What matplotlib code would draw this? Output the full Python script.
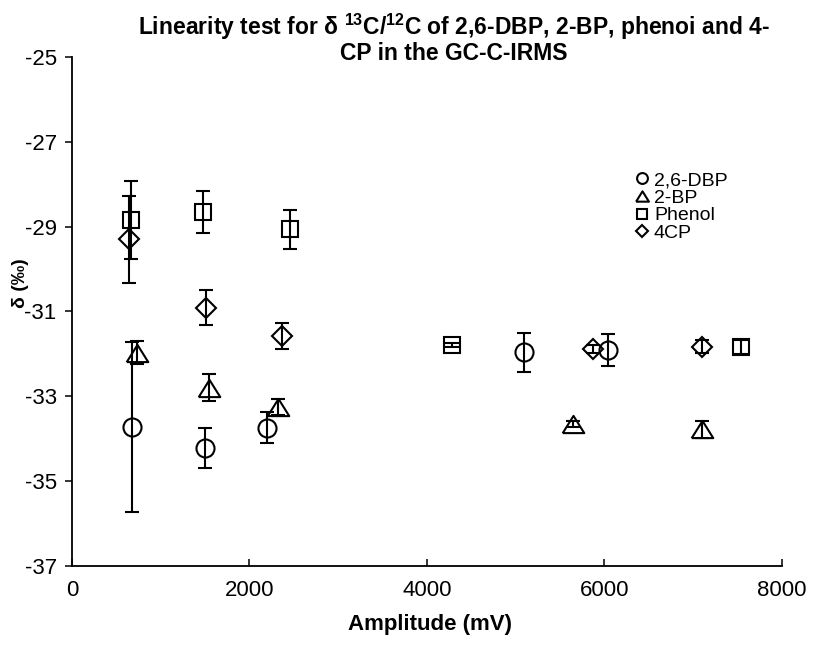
import matplotlib
matplotlib.use('Agg')
import matplotlib.pyplot as plt

# amplitude (mV), delta 13C (permil), error bar half-width
dbp_x = [672, 1499, 2194, 5093, 6043]
dbp_y = [-33.73, -34.22, -33.74, -31.96, -31.91]
dbp_err = [2.0, 0.47, 0.36, 0.46, 0.37]

bp_x = [736, 1547, 2325, 5649, 7095]
bp_y = [-31.97, -32.80, -33.25, -33.65, -33.78]
bp_err = [0.27, 0.32, 0.18, 0.08, 0.21]

phenol_x = [665, 1479, 2456, 4278, 7538]
phenol_y = [-28.84, -28.66, -29.06, -31.79, -31.84]
phenol_err = [0.92, 0.49, 0.46, 0.05, 0.16]

cp_x = [642, 1506, 2363, 5874, 7095]
cp_y = [-29.30, -30.91, -31.58, -31.89, -31.83]
cp_err = [1.03, 0.42, 0.30, 0.10, 0.15]

labels = ['2,6-DBP', '2-BP', 'Phenol', '4CP']
x_ticks = [0, 2000, 4000, 6000, 8000]
y_ticks = [-37, -35, -33, -31, -29, -27, -25]

plt.rcParams['font.family'] = ['Liberation Sans', 'DejaVu Sans']
plt.rcParams['axes.unicode_minus'] = False
plt.rcParams['mathtext.fontset'] = 'custom'
plt.rcParams['mathtext.rm'] = 'Liberation Sans:bold'
plt.rcParams['mathtext.default'] = 'rm'

fig = plt.figure(figsize=(8.17, 6.47), dpi=100)
ax = fig.add_axes([0.0881, 0.1252, 0.8690, 0.7867])

# wide, squat triangle like the original marker
tri = [(-1.25, -1), (1.25, -1), (0, 1), (-1.25, -1)]

series = [
    (dbp_x, dbp_y, dbp_err, 'o', 13),
    (bp_x, bp_y, bp_err, tri, 15.5),
    (phenol_x, phenol_y, phenol_err, 's', 12),
    (cp_x, cp_y, cp_err, 'D', 10.5),
]

handles = []
for (xs, ys, es, m, ms), lab in zip(series, labels):
    ax.errorbar(xs, ys, yerr=es, fmt='none', ecolor='black',
                elinewidth=1.5, capsize=5, capthick=1.5, zorder=3)
    p, = ax.plot(xs, ys, linestyle='none', marker=m, markersize=ms,
                 mfc='none', mec='black', mew=1.5, label=lab, zorder=2)
    handles.append(p)

ax.set_xlim(0, 8000)
ax.set_ylim(-37, -25)
ax.set_xticks(x_ticks)
ax.set_yticks(y_ticks)
ax.tick_params(axis='x', direction='in', length=5, width=1.1, labelsize=16, pad=10)
ax.tick_params(axis='y', direction='out', length=5, width=1.1, labelsize=16, pad=6)
ax.spines['top'].set_visible(False)
ax.spines['right'].set_visible(False)
for s in ['left', 'bottom']:
    ax.spines[s].set_linewidth(1.3)

ax.set_xlabel('Amplitude (mV)', fontsize=16, fontweight='bold')
ax.xaxis.set_label_coords(0.504, -0.095)
ax.set_ylabel('δ (‰)', fontsize=14, fontweight='bold')
ax.yaxis.set_label_coords(-0.06, 0.556)

fig.suptitle('Linearity test for δ $^{13}$C/$^{12}$C of 2,6-DBP, 2-BP, phenoi and 4-\nCP in the GC-C-IRMS',
             x=0.555, y=0.982, fontsize=16.5, fontweight='bold', linespacing=1.0)

ax.legend(handles=handles, loc='upper left', bbox_to_anchor=(0.795, 0.775),
          frameon=False, markerscale=0.6, handlelength=0.6, handletextpad=0.3,
          labelspacing=0.0, borderpad=0, borderaxespad=0,
          prop={'family': 'Liberation Sans', 'size': 14})

fig.savefig('out.png', dpi=100)
